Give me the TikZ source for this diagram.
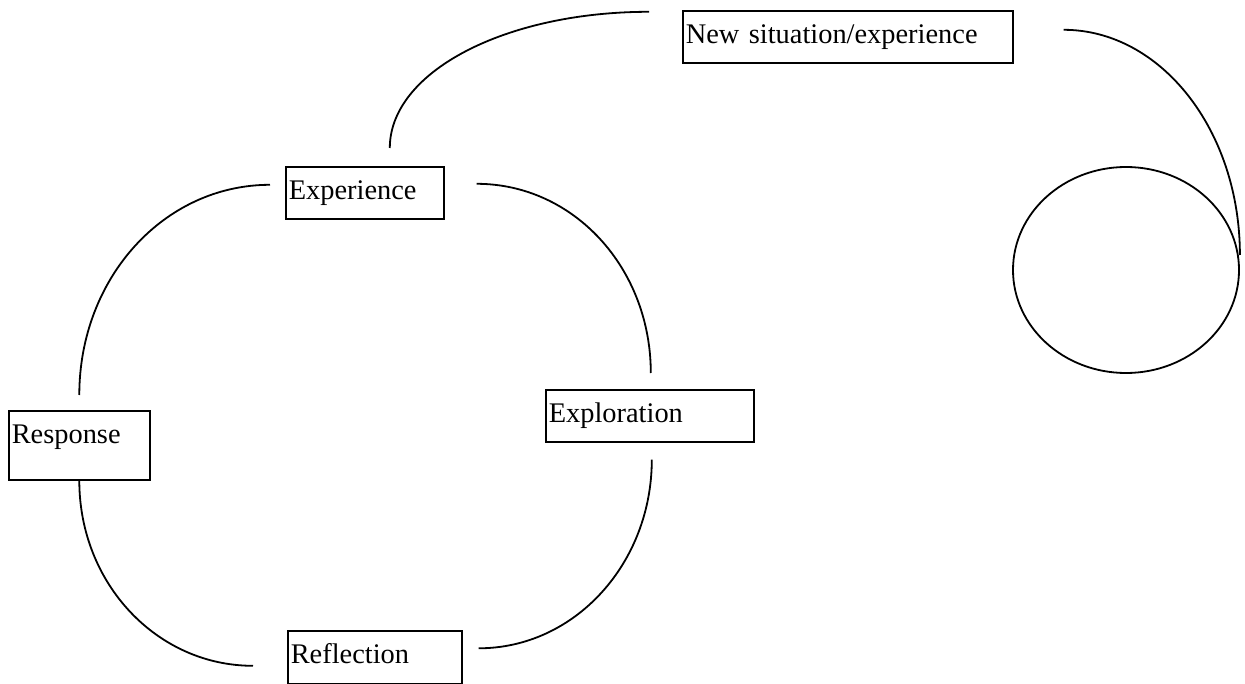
\documentclass[tikz,border=0pt]{standalone}
\usepackage{fontspec}
\setmainfont{Liberation Serif}
\usetikzlibrary{shapes.geometric}
\begin{document}
\begin{tikzpicture}[x=1pt,y=-1pt,
  box/.style={draw, line width=1.6pt, anchor=north west, align=left,
    inner xsep=3pt, inner ysep=12.5pt, text height=20pt, text depth=7pt,
    font=\fontsize{28.4}{32}\selectfont},
  link/.style={line width=1.8pt}]
\useasboundingbox (0,0) rectangle (1245,684);
\node[box, text width=324pt] (ns) at (682,10) {New situation/experience};
\node[box, text width=152pt] (exp) at (285,166) {Experience};
\node[box, text width=135pt, text depth=24pt] (resp) at (8,410) {Response};
\node[box, text width=202pt] (expl) at (545,389) {Exploration};
\node[box, text width=168pt, inner ysep=13pt] (refl) at (287,630) {Reflection};
\node[draw, ellipse, line width=1.8pt, minimum width=226pt, minimum height=206pt, inner sep=0pt] (loop) at (1126,270) {};
% connectors
\draw[link] ([xshift=25pt,yshift=18pt]exp.north) .. controls +(0,-76) and +(-144,0) .. ([xshift=-33pt,yshift=25pt]ns.west);
\draw[link] ([xshift=50pt,yshift=7pt]ns.east) .. controls +(97,0) and +(0,-125) .. ([yshift=15pt]loop.east);
\draw[link] ([xshift=-15pt,yshift=8pt]exp.west) .. controls +(-106,0) and +(0,-117) .. ([yshift=15pt]resp.north);
\draw[link] ([xshift=32pt,yshift=9pt]exp.east) .. controls +(97,0) and +(0,-105) .. ([xshift=1pt,yshift=16pt]expl.north);
\draw[link] ([xshift=2pt,yshift=-17pt]expl.south) .. controls +(0,104) and +(96,0) .. ([xshift=16pt,yshift=9pt]refl.east);
\draw[link] (resp.south) .. controls +(0,103) and +(-96,0) .. ([xshift=-34pt,yshift=-8.5pt]refl.west);
\end{tikzpicture}
\end{document}
